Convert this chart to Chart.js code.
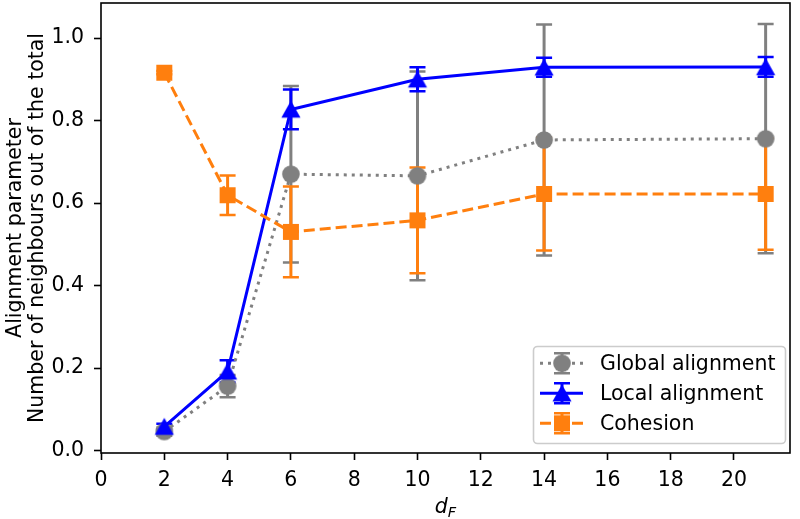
<!DOCTYPE html>
<html><head><meta charset="utf-8">
<script src="https://cdn.jsdelivr.net/npm/chart.js@4.4.1/dist/chart.umd.min.js"></script>
<style>html,body{margin:0;padding:0;background:#fff;} #wrap{width:800px;height:519px;position:relative;}</style>
</head><body><div id="wrap"><canvas id="c" width="800" height="519"></canvas></div>
<script>
// ---- data ----
const dF = [2, 4, 6, 10, 14, 21];
const globalAlign = [0.046, 0.156, 0.670, 0.666, 0.753, 0.756];
const globalErr   = [0.010, 0.027, 0.214, 0.253, 0.280, 0.278];
const localAlign  = [0.058, 0.192, 0.827, 0.900, 0.929, 0.930];
const localErr    = [0.007, 0.027, 0.048, 0.029, 0.023, 0.024];
const cohesion    = [0.916, 0.619, 0.530, 0.558, 0.622, 0.622];
const cohesionErr = [0.004, 0.048, 0.110, 0.128, 0.137, 0.135];
const xTicks = [0, 2, 4, 6, 8, 10, 12, 14, 16, 18, 20];
const yTicks = [0.0, 0.2, 0.4, 0.6, 0.8, 1.0];
const seriesLabels = ['Global alignment', 'Local alignment', 'Cohesion'];
const yTitle = ['Alignment parameter', 'Number of neighbours out of the total'];

// ---- styles ----
const FONT = '"DejaVu Sans", "Liberation Sans", sans-serif';
const FS = 20.5;
const GRAY = '#808080', BLUE = '#0000ff', ORANGE = '#ff7f0e';

function makeMarker(type, color) {
  const c = document.createElement('canvas');
  c.width = 24; c.height = 24;
  const g = c.getContext('2d');
  g.fillStyle = color;
  g.beginPath();
  if (type === 'circle') {
    g.arc(12, 12, 8.8, 0, Math.PI * 2);
  } else if (type === 'square') {
    g.rect(12 - 8, 12 - 8, 16, 16);
  } else {
    g.moveTo(12, 12 - 8.8);
    g.lineTo(12 + 9.6, 12 + 8.2);
    g.lineTo(12 - 9.6, 12 + 8.2);
    g.closePath();
  }
  g.fill();
  return c;
}
const markers = [makeMarker('circle', GRAY), makeMarker('triangle', BLUE), makeMarker('square', ORANGE)];
const colors = [GRAY, BLUE, ORANGE];
const dashes = [[3, 5], [], [11, 5]];
const vals = [globalAlign, localAlign, cohesion];
const errs = [globalErr, localErr, cohesionErr];

function toPts(arr) { return dF.map((x, i) => ({x: x, y: arr[i]})); }

const datasets = vals.map((v, i) => ({
  label: seriesLabels[i],
  data: toPts(v),
  borderColor: colors[i],
  backgroundColor: colors[i],
  borderWidth: 3,
  borderDash: dashes[i],
  borderCapStyle: 'butt',
  pointStyle: markers[i],
  pointRadius: 9,
  pointHoverRadius: 9,
  tension: 0,
  fill: false,
  order: 2 - i,
  clip: 0
}));

function drawErr(ctx, x, yTop, yBot, color) {
  ctx.strokeStyle = color;
  ctx.lineWidth = 3;
  ctx.beginPath(); ctx.moveTo(x, yTop); ctx.lineTo(x, yBot); ctx.stroke();
  ctx.lineWidth = 2.5;
  ctx.beginPath();
  ctx.moveTo(x - 8, yTop); ctx.lineTo(x + 8, yTop);
  ctx.moveTo(x - 8, yBot); ctx.lineTo(x + 8, yBot);
  ctx.stroke();
}

const decor = {
  id: 'decor',
  beforeDatasetsDraw(chart) {
    const {ctx, chartArea: a, scales: {x, y}} = chart;
    ctx.save();
    ctx.beginPath(); ctx.rect(a.left, a.top, a.right - a.left, a.bottom - a.top); ctx.clip();
    ctx.setLineDash([]); ctx.lineCap = 'butt';
    for (let s = 0; s < 3; s++) {
      for (let j = 0; j < dF.length; j++) {
        const px = x.getPixelForValue(dF[j]);
        drawErr(ctx, px, y.getPixelForValue(vals[s][j] + errs[s][j]), y.getPixelForValue(vals[s][j] - errs[s][j]), colors[s]);
      }
    }
    ctx.restore();
  },
  afterDatasetsDraw(chart) {
    const {ctx, chartArea: a} = chart;
    ctx.save();
    ctx.strokeStyle = '#000'; ctx.lineWidth = 1.6; ctx.setLineDash([]);
    ctx.strokeRect(a.left, a.top, a.right - a.left, a.bottom - a.top);
    ctx.restore();
  },
  afterDraw(chart) {
    const {ctx, chartArea: a} = chart;
    ctx.save();
    // legend
    const bx = 533.5, by = 346.5, bw = 252, bh = 97;
    ctx.beginPath();
    ctx.roundRect(bx, by, bw, bh, 4);
    ctx.fillStyle = 'rgba(255,255,255,0.8)'; ctx.fill();
    ctx.strokeStyle = '#cccccc'; ctx.lineWidth = 1.6; ctx.stroke();
    const rows = [363.3, 393.3, 423.3];
    for (let s = 0; s < 3; s++) {
      const cy = rows[s];
      ctx.setLineDash(dashes[s]); ctx.lineCap = 'butt';
      ctx.strokeStyle = colors[s]; ctx.lineWidth = 3;
      ctx.beginPath(); ctx.moveTo(540, cy); ctx.lineTo(583, cy); ctx.stroke();
      ctx.setLineDash([]);
      drawErr(ctx, 562, cy - 10, cy + 10, colors[s]);
      ctx.drawImage(markers[s], 562 - 12, cy - 12);
      ctx.fillStyle = '#000';
      ctx.font = FS + 'px ' + FONT;
      ctx.textAlign = 'left'; ctx.textBaseline = 'middle';
      ctx.fillText(seriesLabels[s], 600, cy + 1);
    }
    // x axis title d_F
    const cx = (a.left + a.right) / 2;
    ctx.fillStyle = '#000';
    ctx.textBaseline = 'alphabetic'; ctx.textAlign = 'left';
    ctx.font = 'italic ' + FS + 'px ' + FONT;
    const wd = ctx.measureText('d').width;
    ctx.font = 'italic 14.5px ' + FONT;
    const wf = ctx.measureText('F').width;
    const sx = cx - (wd + wf) / 2;
    ctx.font = 'italic ' + FS + 'px ' + FONT;
    ctx.fillText('d', sx, 513);
    ctx.font = 'italic 14.5px ' + FONT;
    ctx.fillText('F', sx + wd, 517);
    ctx.restore();
  }
};

new Chart(document.getElementById('c'), {
  type: 'line',
  data: {datasets: datasets},
  options: {
    responsive: false,
    animation: false,
    devicePixelRatio: 1,
    layout: {autoPadding: false, padding: {left: 0, right: 10, top: 3, bottom: 0}},
    plugins: {legend: {display: false}, tooltip: {enabled: false}},
    scales: {
      x: {
        type: 'linear', min: 0, max: 21.77,
        afterBuildTicks: (s) => { s.ticks = xTicks.map(v => ({value: v})); },
        afterFit: (s) => { s.height = 66; s.paddingLeft = 0; s.paddingRight = 0; },
        grid: {display: true, drawOnChartArea: false, drawTicks: true, tickLength: 7, tickWidth: 1.6, tickColor: '#000'},
        border: {display: false},
        ticks: {color: '#000', font: {family: FONT, size: FS}, padding: 8, maxRotation: 0, autoSkip: false,
                callback: (v) => String(v)}
      },
      y: {
        type: 'linear', min: -0.006, max: 1.085,
        afterBuildTicks: (s) => { s.ticks = yTicks.map(v => ({value: v})); },
        afterFit: (s) => { s.width = 101; s.paddingTop = 0; s.paddingBottom = 0; },
        grid: {display: true, drawOnChartArea: false, drawTicks: true, tickLength: 7, tickWidth: 1.6, tickColor: '#000'},
        border: {display: false},
        ticks: {color: '#000', font: {family: FONT, size: FS}, padding: 10, autoSkip: false,
                callback: (v) => Number(v).toFixed(1)},
        title: {display: true, text: yTitle, color: '#000', font: {family: FONT, size: FS, lineHeight: 1.1}, padding: {top: 4, bottom: 0}}
      }
    }
  },
  plugins: [decor]
});
</script></body></html>
